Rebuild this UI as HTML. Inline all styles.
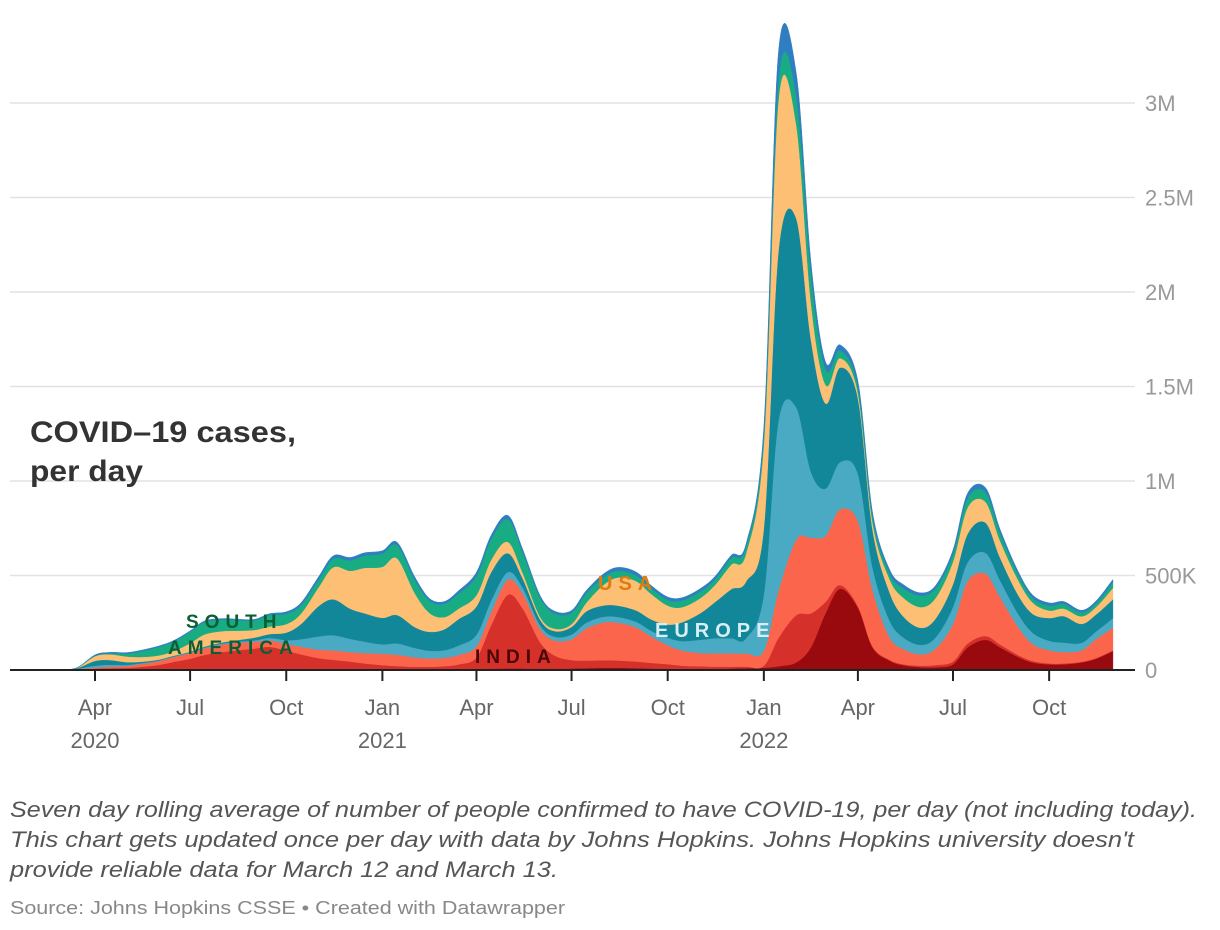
<!DOCTYPE html>
<html><head><meta charset="utf-8">
<style>
body{margin:0;background:#fff;width:1220px;height:930px;overflow:hidden;font-family:"Liberation Sans",sans-serif;}
svg{position:absolute;left:0;top:0;}
</style></head>
<body>
<svg id="chart" width="1220" height="930" xmlns="http://www.w3.org/2000/svg">
<g id="grid"></g>
<g id="areas"></g>
<g id="axis"></g>
<text x="30" y="442" font-size="30" font-weight="bold" fill="#333" textLength="266" lengthAdjust="spacingAndGlyphs">COVID–19 cases,</text>
<text x="30" y="481" font-size="30" font-weight="bold" fill="#333" textLength="113" lengthAdjust="spacingAndGlyphs">per day</text>
<text x="186" y="628" font-size="19" font-weight="bold" fill="#0b5e34" letter-spacing="6">SOUTH</text>
<text x="168" y="654" font-size="19" font-weight="bold" fill="#0b5e34" letter-spacing="6">AMERICA</text>
<text x="598" y="590" font-size="20" font-weight="bold" fill="#e07b10" letter-spacing="6">USA</text>
<text x="655" y="637" font-size="20" font-weight="bold" fill="#d6eef4" letter-spacing="6">EUROPE</text>
<text x="475" y="663" font-size="19" font-weight="bold" fill="#4a0606" letter-spacing="6">INDIA</text>
<text x="10" y="817" font-size="22" font-style="italic" fill="#555" textLength="1187" lengthAdjust="spacingAndGlyphs">Seven day rolling average of number of people confirmed to have COVID-19, per day (not including today).</text>
<text x="10" y="847" font-size="22" font-style="italic" fill="#555" textLength="1124" lengthAdjust="spacingAndGlyphs">This chart gets updated once per day with data by Johns Hopkins. Johns Hopkins university doesn't</text>
<text x="10" y="877" font-size="22" font-style="italic" fill="#555" textLength="548" lengthAdjust="spacingAndGlyphs">provide reliable data for March 12 and March 13.</text>
<text x="10" y="914" font-size="18" fill="#888" textLength="555" lengthAdjust="spacingAndGlyphs">Source: Johns Hopkins CSSE • Created with Datawrapper</text>
</svg>
<script>
const startDate = "2020-03-01";
const yTicks = [0, 500, 1000, 1500, 2000, 2500, 3000];
const yTickLabels = ["0", "500K", "1M", "1.5M", "2M", "2.5M", "3M"];
const xTickDates = ["2020-04-01","2020-07-01","2020-10-01","2021-01-01","2021-04-01","2021-07-01","2021-10-01","2022-01-01","2022-04-01","2022-07-01","2022-10-01"];
const xTickLabels = ["Apr","Jul","Oct","Jan","Apr","Jul","Oct","Jan","Apr","Jul","Oct"];
const xTickYears = ["2020","","","2021","","","","2022","","",""];
// values in thousands, semi-monthly from Mar 1 2020
const eastAsia = [0,2,5,5,3,2,2,3,5,5,5,4,4,3,3,3,3,4,5,5,6,6,5,5,5,5,6,7,8,8,6,6,8,10,12,12,10,8,6,5,5,6,8,10,12,20,40,120,300,430,330,120,50,25,15,15,30,120,160,120,70,40,30,30,40,60,100];
const india = [0,1,3,5,8,15,25,40,55,75,90,100,110,120,100,80,60,50,40,30,20,15,12,12,15,25,60,230,390,320,140,70,45,40,40,38,35,30,25,18,15,12,10,8,10,150,250,180,60,20,8,5,5,5,8,12,15,20,20,15,10,8,5,5,4,4,4];
const otherAsia = [0,2,5,8,10,15,20,25,30,35,40,40,35,35,35,40,45,50,50,55,60,60,50,45,45,50,60,70,80,80,70,80,110,170,200,200,180,140,100,80,70,70,70,70,80,250,400,400,350,400,450,300,120,80,60,90,200,330,330,250,150,90,70,60,60,100,120];
const europeLight = [0,2,10,10,6,4,3,3,3,4,5,6,8,12,20,40,70,80,70,60,50,60,50,40,40,50,60,60,40,30,20,20,25,30,30,30,30,30,40,50,70,80,80,80,300,900,700,350,250,250,250,120,90,60,50,60,90,100,110,90,70,60,50,50,40,40,50];
const europeTeal = [0,3,25,25,15,8,5,4,4,5,6,8,15,20,40,80,160,190,160,150,140,150,110,100,110,140,150,150,100,50,30,30,40,60,60,60,60,60,70,100,140,190,260,300,350,900,1000,700,450,500,400,200,150,110,90,100,120,150,160,120,100,100,120,140,100,90,100];
const usa = [0,2,25,30,30,25,22,25,45,65,60,50,40,40,45,55,100,170,200,240,270,300,180,100,65,55,60,65,60,30,15,13,15,45,110,150,155,135,100,80,80,90,130,150,450,800,500,200,100,50,30,40,70,100,110,110,120,140,110,90,80,60,40,40,40,40,60];
const southAmerica = [0,0,2,5,15,30,45,50,60,65,60,55,50,60,55,45,40,45,55,65,70,70,70,65,70,80,100,110,120,110,100,80,60,50,40,35,30,30,30,35,35,30,35,35,40,100,150,150,80,40,30,30,30,50,60,50,40,50,50,40,30,25,25,25,20,20,30];
const other = [0,0,5,5,5,5,5,5,5,6,6,6,6,8,10,12,15,15,15,15,15,15,15,12,12,15,20,20,20,15,12,12,12,15,18,18,18,15,15,15,15,15,15,15,40,150,120,60,40,30,30,20,20,20,15,15,20,25,25,20,15,15,15,12,12,12,15];
const layers = [
 {name:"east-asia", data:eastAsia, color:"#990a0f"},
 {name:"india", data:india, color:"#d6302a"},
 {name:"other-asia", data:otherAsia, color:"#fb654b"},
 {name:"europe-light", data:europeLight, color:"#4aaac4"},
 {name:"europe-teal", data:europeTeal, color:"#12879a"},
 {name:"usa", data:usa, color:"#fdbf73"},
 {name:"south-america", data:southAmerica, color:"#18ac82"},
 {name:"other", data:other, color:"#2f7fc0"}
];
const NS="http://www.w3.org/2000/svg";
const day0 = new Date("2020-04-01").getTime();
function xDate(t){return 95 + (t - day0)/86400000 * (953-95)/(new Date("2022-07-01")-day0)*86400000;}
function yScale(v){return 670 - v*(567/3000);}
function pointDate(i){const d=new Date(startDate);const m=Math.floor(i/2);d.setMonth(d.getMonth()+m);d.setDate(i%2?15:1);return d.getTime();}
const grid=document.getElementById('grid');
yTicks.forEach((v,i)=>{
  if(i>0){const l=document.createElementNS(NS,'line');
  
  
  l.setAttribute('x1',10);l.setAttribute('x2',1135);l.setAttribute('y1',yScale(v));l.setAttribute('y2',yScale(v));
  l.setAttribute('stroke','#e2e2e2');l.setAttribute('stroke-width',1.5);grid.appendChild(l);}
  const t=document.createElementNS(NS,'text');
  
  
  t.setAttribute('x',1145);t.setAttribute('y',yScale(v)+8);t.setAttribute('font-size',22);t.setAttribute('fill','#999');
  t.textContent=yTickLabels[i];grid.appendChild(t);
});
const n=eastAsia.length;
const cum=new Array(n).fill(0);
const areas=document.getElementById('areas');
function smooth(pts){let d='';for(let i=0;i<pts.length-1;i++){const p0=pts[Math.max(i-1,0)],p1=pts[i],p2=pts[i+1],p3=pts[Math.min(i+2,pts.length-1)];
 const c1=[p1[0]+(p2[0]-p0[0])/6,p1[1]+(p2[1]-p0[1])/6],c2=[p2[0]-(p3[0]-p1[0])/6,p2[1]-(p3[1]-p1[1])/6];
 d+=` C${c1[0].toFixed(1)},${c1[1].toFixed(1)} ${c2[0].toFixed(1)},${c2[1].toFixed(1)} ${p2[0].toFixed(1)},${p2[1].toFixed(1)}`;}return d;}
layers.forEach(L=>{
  const lower=[],upper=[];
  for(let i=0;i<n;i++){const x=xDate(pointDate(i));lower.push([x,yScale(cum[i])]);cum[i]+=L.data[i];upper.push([x,yScale(cum[i])]);}
  const lr=lower.slice().reverse();
  let d=`M${upper[0][0]},${upper[0][1]}`+smooth(upper)+` L${lr[0][0]},${lr[0][1]}`+smooth(lr)+'Z';
  const p=document.createElementNS(NS,'path');
  
  
  p.setAttribute('d',d);p.setAttribute('fill',L.color);p.setAttribute('stroke',L.color);p.setAttribute('stroke-width',0.5);
  areas.appendChild(p);
});
const axis=document.getElementById('axis');
const base=document.createElementNS(NS,'line');


base.setAttribute('x1',10);base.setAttribute('x2',1135);base.setAttribute('y1',670);base.setAttribute('y2',670);base.setAttribute('stroke','#222');base.setAttribute('stroke-width',2);
axis.appendChild(base);
xTickDates.forEach((ds,i)=>{
  const x=xDate(new Date(ds).getTime());
  const tk=document.createElementNS(NS,'line');
  
  
  tk.setAttribute('x1',x);tk.setAttribute('x2',x);tk.setAttribute('y1',670);tk.setAttribute('y2',681);tk.setAttribute('stroke','#222');tk.setAttribute('stroke-width',2);
  axis.appendChild(tk);
  const t=document.createElementNS(NS,'text');
  
  
  t.setAttribute('x',x);t.setAttribute('y',715);t.setAttribute('font-size',22);t.setAttribute('fill','#666');t.setAttribute('text-anchor','middle');
  t.textContent=xTickLabels[i];axis.appendChild(t);
  if(xTickYears[i]){const y=document.createElementNS(NS,'text');
  
  
  y.setAttribute('x',x);y.setAttribute('y',748);y.setAttribute('font-size',22);y.setAttribute('fill','#666');y.setAttribute('text-anchor','middle');
  y.textContent=xTickYears[i];axis.appendChild(y);}
});
</script>
</body></html>
